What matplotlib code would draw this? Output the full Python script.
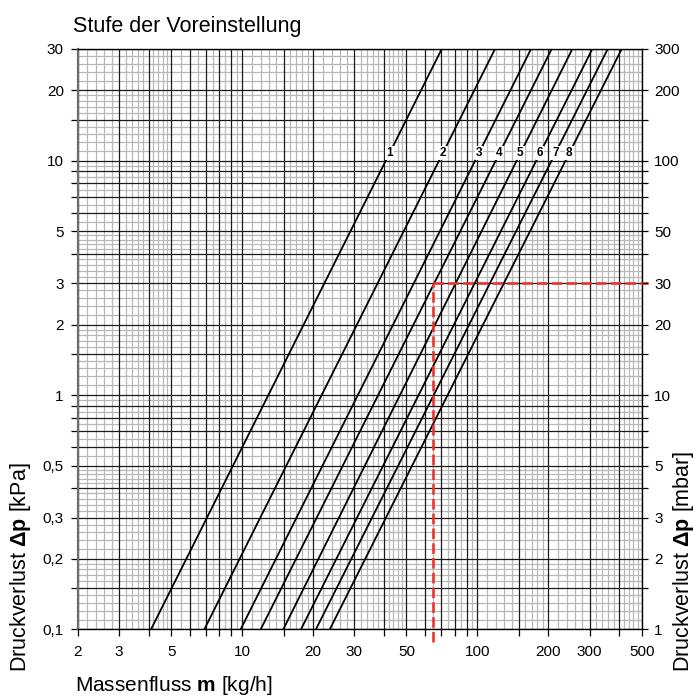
import numpy as np
import matplotlib
matplotlib.use("Agg")
import matplotlib.pyplot as plt
from matplotlib.ticker import FixedLocator, FuncFormatter, NullFormatter

plt.rcParams['font.family'] = ['Liberation Sans', 'DejaVu Sans']
plt.rcParams['mathtext.fontset'] = 'custom'
plt.rcParams['mathtext.rm'] = 'Liberation Sans'
plt.rcParams['mathtext.bf'] = 'Liberation Sans:bold'

# ---- data ----
settings = ["1", "2", "3", "4", "5", "6", "7", "8"]
dp_ends = [0.1, 30.0]                      # kPa, ends of each curve
m_at_dp_low = [4.10, 6.91, 9.86, 12.0, 14.97, 17.8, 20.6, 23.6]       # kg/h at 0.1 kPa
m_at_dp_high = [70.6, 118.9, 169.2, 207.1, 253.5, 308.3, 358.5, 411.1]  # kg/h at 30 kPa
label_dp = 10.76
example_m = 65.0
example_dp = 3.0

x_ticklabels = [2, 3, 5, 10, 20, 30, 50, 100, 200, 300, 500]
y_ticklabels = [0.1, 0.2, 0.3, 0.5, 1, 2, 3, 5, 10, 20, 30]
y2_ticklabels = [1, 2, 3, 5, 10, 20, 30, 50, 100, 200, 300]

xlim = (2, 500)
ylim = (0.1, 30)
ylim2 = (1, 300)

# ---- grid positions (log-paper pattern) ----
def grid_positions(lo, hi, bases):
    majors, minors = [], []
    for b in bases:
        mj = [b * v for v in [1, 1.5, 2, 3, 4, 5, 6, 7, 8, 9]]
        mn = list(b * np.arange(1, 2, 0.1)) + list(b * np.arange(2, 5, 0.2)) + list(b * np.arange(5, 10, 0.5))
        majors += mj
        minors += mn
    majors = sorted(set(round(v, 6) for v in majors if lo - 1e-9 <= v <= hi + 1e-9))
    minors = sorted(set(round(v, 6) for v in minors if lo - 1e-9 <= v <= hi + 1e-9))
    minors = [v for v in minors if all(abs(v - m) > 1e-6 for m in majors)]
    return majors, minors

xmaj, xmin = grid_positions(xlim[0], xlim[1] * 1.0001, [1, 10, 100])
if 500 not in xmaj:
    xmaj.append(500)
ymaj, ymin = grid_positions(ylim[0], ylim[1], [0.1, 1, 10])

fig = plt.figure(figsize=(6.97, 6.99), dpi=100)
W, H = 697, 699
L, R, T, B = 77.7, 641.7, 49.0, 629.3
ax = fig.add_axes([L / W, 1 - B / H, (R - L) / W, (B - T) / H])
ax.set_xscale('log')
ax.set_yscale('log')
ax.set_xlim(*xlim)
ax.set_ylim(*ylim)

minor_col = '#b8b8b8'
major_col = '#1a1a1a'
for v in xmin:
    ax.axvline(v, color=minor_col, lw=0.9, zorder=0.5)
for v in ymin:
    ax.axhline(v, color=minor_col, lw=0.9, zorder=0.5)
for v in xmaj:
    ax.axvline(v, color=major_col, lw=0.9, zorder=0.6)
for v in ymaj:
    ax.axhline(v, color=major_col, lw=0.9, zorder=0.6)

# curves
for name, m0, m1 in zip(settings, m_at_dp_low, m_at_dp_high):
    ax.plot([m0, m1], dp_ends, color='black', lw=1.3, zorder=3, solid_capstyle='butt')
    xl = 10 ** np.interp(np.log10(label_dp), np.log10(dp_ends), np.log10([m0, m1]))
    ax.text(xl, label_dp, name, fontsize=8.5, fontweight='bold', ha='center', va='center',
            zorder=4, bbox=dict(facecolor='white', edgecolor='none', pad=0.8))

# example red dashed lines
red = '#e8362f'
ax.plot([example_m, example_m], [0.0885, example_dp], color=red, lw=1.9,
        linestyle=(0, (4, 1.6)), zorder=5, clip_on=False)
ax.plot([example_m, 532], [example_dp, example_dp], color=red, lw=1.9,
        linestyle=(0, (4, 1.6)), zorder=5, clip_on=False)

def fmt(v):
    return ('%g' % v).replace('.', ',')

ax.xaxis.set_major_locator(FixedLocator(xmaj))
ax.xaxis.set_minor_locator(FixedLocator([]))
ax.xaxis.set_major_formatter(FuncFormatter(lambda v, p: fmt(v) if any(abs(v - t) < 1e-6 for t in x_ticklabels) else ''))
ax.xaxis.set_minor_formatter(NullFormatter())
ax.yaxis.set_major_locator(FixedLocator(ymaj))
ax.yaxis.set_minor_locator(FixedLocator([]))
ax.yaxis.set_major_formatter(FuncFormatter(lambda v, p: fmt(v) if any(abs(v - t) < 1e-6 for t in y_ticklabels) else ''))
ax.yaxis.set_minor_formatter(NullFormatter())
ax.tick_params(axis='x', direction='out', length=5, width=0.9, pad=6.5, labelsize=11, color='black')
ax.tick_params(axis='y', direction='out', length=5, width=0.9, pad=5, labelsize=11, color='black')

for s in ['top', 'right', 'bottom']:
    ax.spines[s].set_color('black')
    ax.spines[s].set_linewidth(1.0)
ax.spines['left'].set_color('#6e6e6e')
ax.spines['left'].set_linewidth(1.6)

ax2 = ax.twinx()
ax2.set_yscale('log')
ax2.set_ylim(*ylim2)
ax2.yaxis.set_major_locator(FixedLocator([v * 10 for v in ymaj]))
ax2.yaxis.set_minor_locator(FixedLocator([]))
ax2.yaxis.set_major_formatter(FuncFormatter(lambda v, p: fmt(v) if any(abs(v - t) < 1e-6 for t in y2_ticklabels) else ''))
ax2.yaxis.set_minor_formatter(NullFormatter())
ax2.tick_params(axis='y', direction='out', length=4, width=0.9, pad=5, labelsize=11, color='black')
for s in ax2.spines.values():
    s.set_visible(False)

fig.text(73 / W, 1 - 32 / H, 'Stufe der Voreinstellung', fontsize=15.5, ha='left', va='baseline')
fig.text(75 / W, 1 - 691 / H, r'Massenfluss $\mathbf{m}$ [kg/h]', fontsize=15, ha='left', va='baseline')
fig.text(26 / W, 1 - 672 / H, r'Druckverlust $\mathbf{Δp}$ [kPa]', fontsize=15.5, rotation=90,
         rotation_mode='anchor', ha='left', va='baseline')
fig.text(689 / W, 1 - 672 / H, r'Druckverlust $\mathbf{Δp}$ [mbar]', fontsize=15.5, rotation=90,
         rotation_mode='anchor', ha='left', va='baseline')

fig.savefig('out.png', dpi=100)
